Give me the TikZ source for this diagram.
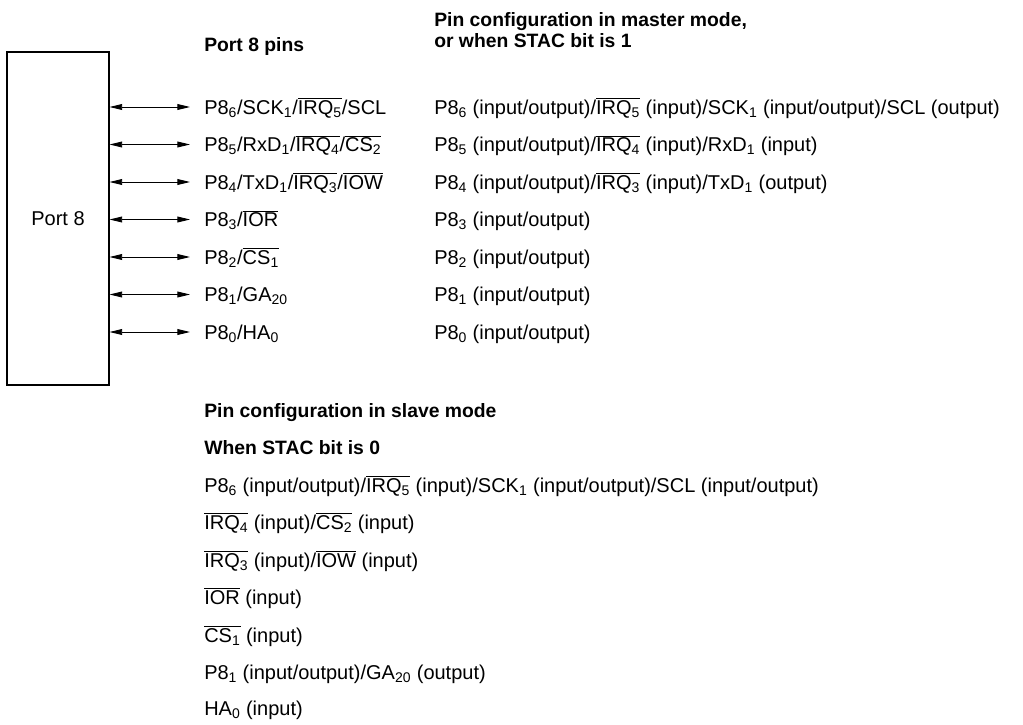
\documentclass[tikz,border=0pt]{standalone}
\usepackage{fontspec}
\setmainfont{Liberation Sans}
\usepackage{tikz}
\usetikzlibrary{positioning, arrows.meta, calc}

\newcommand{\nbar}[1]{$\overline{\mbox{#1}}$}
\newcommand{\sbs}[1]{\textsubscript{#1}}

\begin{document}
\begin{tikzpicture}[
    x=0.75pt, y=-0.75pt,
    font=\fontsize{15}{18}\selectfont,
    portbox/.style={draw=black, line width=0.8pt, minimum width=76.5pt, minimum height=249.75pt, inner sep=0pt},
    pin/.style={anchor=west, inner sep=0pt, text height=10.7pt, text depth=0pt},
    head/.style={pin, font=\fontsize{14.5}{17}\selectfont\bfseries},
    pinarrow/.style={{Triangle[length=9.5pt,width=4.4pt]}-{Triangle[length=9.5pt,width=4.4pt]}, line width=0.7pt, shorten >=10.5pt}
]
\useasboundingbox (0,0) rectangle (1023,724);
% port block
\node[portbox] (port) at (58,218.5) {Port 8};
% column headings
\node[head] (hpins) at (204,44) {Port 8 pins};
\node[head] (hm1) at (434,19) {Pin configuration in master mode,};
\node[head] (hm2) at (434,40) {or when STAC bit is 1};
% pins and master mode functions
\foreach \i/\y/\pn/\fn in {
  6/107/{P8\sbs{6}/SCK\sbs{1}/\nbar{IRQ\sbs{5}}/SCL}/{P8\sbs{6} (input/output)/\nbar{IRQ\sbs{5}} (input)/SCK\sbs{1} (input/output)/SCL (output)},
  5/144.5/{P8\sbs{5}/RxD\sbs{1}/\nbar{IRQ\sbs{4}}/\nbar{CS\sbs{2}}}/{P8\sbs{5} (input/output)/\nbar{IRQ\sbs{4}} (input)/RxD\sbs{1} (input)},
  4/182/{P8\sbs{4}/TxD\sbs{1}/\nbar{IRQ\sbs{3}}/\nbar{IOW}}/{P8\sbs{4} (input/output)/\nbar{IRQ\sbs{3}} (input)/TxD\sbs{1} (output)},
  3/219.5/{P8\sbs{3}/\nbar{IOR}}/{P8\sbs{3} (input/output)},
  2/257/{P8\sbs{2}/\nbar{CS\sbs{1}}}/{P8\sbs{2} (input/output)},
  1/294.5/{P8\sbs{1}/GA\sbs{20}}/{P8\sbs{1} (input/output)},
  0/332/{P8\sbs{0}/HA\sbs{0}}/{P8\sbs{0} (input/output)}}{
  \node[pin] (p\i) at (204,\y) {\pn};
  \node[pin] (m\i) at (434,\y) {\fn};
  \draw[pinarrow] (port.east |- p\i.west) -- (p\i.west);
}
% slave mode
\node[head] (hs1) at (204,410) {Pin configuration in slave mode};
\node[head] (hs2) at (204,447) {When STAC bit is 0};
\foreach \i/\y/\fn in {
  6/485/{P8\sbs{6} (input/output)/\nbar{IRQ\sbs{5}} (input)/SCK\sbs{1} (input/output)/SCL (input/output)},
  5/522/{\nbar{IRQ\sbs{4}} (input)/\nbar{CS\sbs{2}} (input)},
  4/560/{\nbar{IRQ\sbs{3}} (input)/\nbar{IOW} (input)},
  3/597/{\nbar{IOR} (input)},
  2/635/{\nbar{CS\sbs{1}} (input)},
  1/672/{P8\sbs{1} (input/output)/GA\sbs{20} (output)},
  0/708/{HA\sbs{0} (input)}}{
  \node[pin] (s\i) at (204,\y) {\fn};
}
\end{tikzpicture}
\end{document}
